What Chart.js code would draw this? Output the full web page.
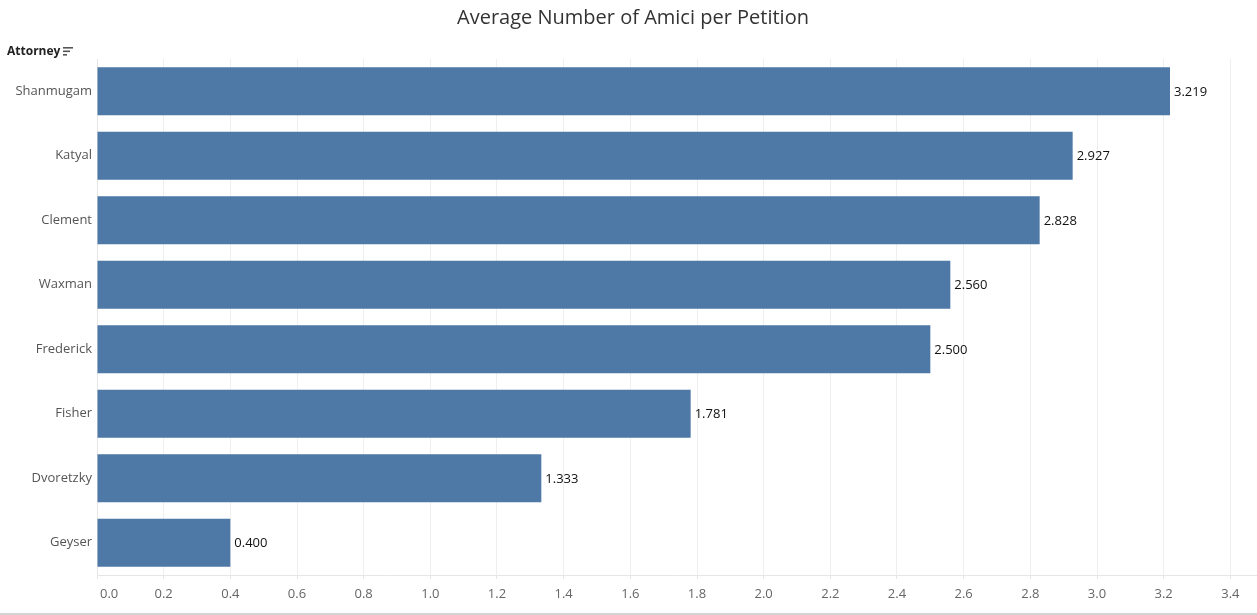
<!DOCTYPE html>
<html>
<head>
<meta charset="utf-8">
<script src="https://cdn.jsdelivr.net/npm/chart.js@4"></script>
<style>
  html,body{margin:0;padding:0;background:#fff;}
  #wrap{position:relative;width:1257px;height:615px;}
  #hdr{position:absolute;left:7px;top:42px;font:bold 12px "Open Sans",sans-serif;color:#222;}
  #hdr span{display:inline-block;vertical-align:middle;margin-left:3px;}
</style>
</head>
<body>
<div id="wrap">
  <canvas id="c" width="1257" height="615"></canvas>
  <div id="hdr">Attorney<span><svg width="10" height="9"><rect x="0" y="0" width="10" height="1.6" fill="#555"/><rect x="0" y="3.5" width="7" height="1.6" fill="#555"/><rect x="0" y="7" width="4" height="1.6" fill="#555"/></svg></span></div>
</div>
<script>
const chartTitle = "Average Number of Amici per Petition";
const attorneys = ["Shanmugam","Katyal","Clement","Waxman","Frederick","Fisher","Dvoretzky","Geyser"];
const avgAmici = [3.219, 2.927, 2.828, 2.560, 2.500, 1.781, 1.333, 0.400];
const xTicks = [0,0.2,0.4,0.6,0.8,1.0,1.2,1.4,1.6,1.8,2.0,2.2,2.4,2.6,2.8,3.0,3.2,3.4];
const xMax = 3.48;

const FONT = '"Open Sans", sans-serif';

const extras = {
  id: 'extras',
  afterDatasetsDraw(chart) {
    const ctx = chart.ctx;
    const meta = chart.getDatasetMeta(0);
    ctx.save();
    ctx.font = '13px ' + FONT;
    ctx.fillStyle = '#111';
    ctx.textAlign = 'left';
    ctx.textBaseline = 'middle';
    meta.data.forEach((bar, i) => {
      ctx.fillText(avgAmici[i].toFixed(3), bar.x + 4, bar.y + 1);
    });
    ctx.restore();
  },
  afterDraw(chart) {
    const ctx = chart.ctx;
    const xs = chart.scales.x;
    ctx.save();
    // first tick label, shifted inside like the reference
    ctx.font = '13px ' + FONT;
    ctx.fillStyle = '#666';
    ctx.textAlign = 'left';
    ctx.textBaseline = 'top';
    ctx.fillText(Number(xTicks[0]).toFixed(1), xs.getPixelForValue(xTicks[0]) + 3, xs.top + 13);
    // title
    ctx.font = '20px ' + FONT;
    ctx.fillStyle = '#333';
    ctx.textAlign = 'center';
    ctx.textBaseline = 'middle';
    ctx.fillText(chartTitle, 633, 18);
    ctx.strokeStyle = '#d4d4d4';
    ctx.lineWidth = 2;
    ctx.beginPath();
    ctx.moveTo(0, 614);
    ctx.lineTo(1257, 614);
    ctx.stroke();
    ctx.restore();
  }
};

new Chart(document.getElementById('c'), {
  type: 'bar',
  data: {
    labels: attorneys,
    datasets: [{
      data: avgAmici,
      backgroundColor: '#4e79a7',
      categoryPercentage: 0.743,
      barPercentage: 1.0
    }]
  },
  options: {
    indexAxis: 'y',
    responsive: false,
    animation: false,
    devicePixelRatio: 1,
    layout: { padding: { top: 59, right: 0, left: 0, bottom: 0 } },
    plugins: { legend: { display: false }, tooltip: { enabled: false }, title: { display: false } },
    scales: {
      x: {
        min: 0,
        max: xMax,
        afterBuildTicks(scale) { scale.ticks = xTicks.map(v => ({ value: v })); },
        afterFit(scale) { scale.height = 40; },
        grid: { color: '#efefef', tickColor: '#e6e6e6', lineWidth: 1, tickLength: 4, drawTicks: true },
        border: { display: true, color: '#e6e6e6' },
        ticks: {
          padding: 7,
          color: '#666',
          font: { family: FONT, size: 13 },
          callback: v => (v === xTicks[0] ? '' : Number(v).toFixed(1))
        }
      },
      y: {
        afterFit(scale) { scale.width = 97; },
        grid: { display: false, drawTicks: false },
        border: { display: true, color: '#e6e6e6' },
        ticks: {
          padding: 5,
          color: '#555',
          font: { family: FONT, size: 13 }
        }
      }
    }
  },
  plugins: [extras]
});
</script>
</body>
</html>
